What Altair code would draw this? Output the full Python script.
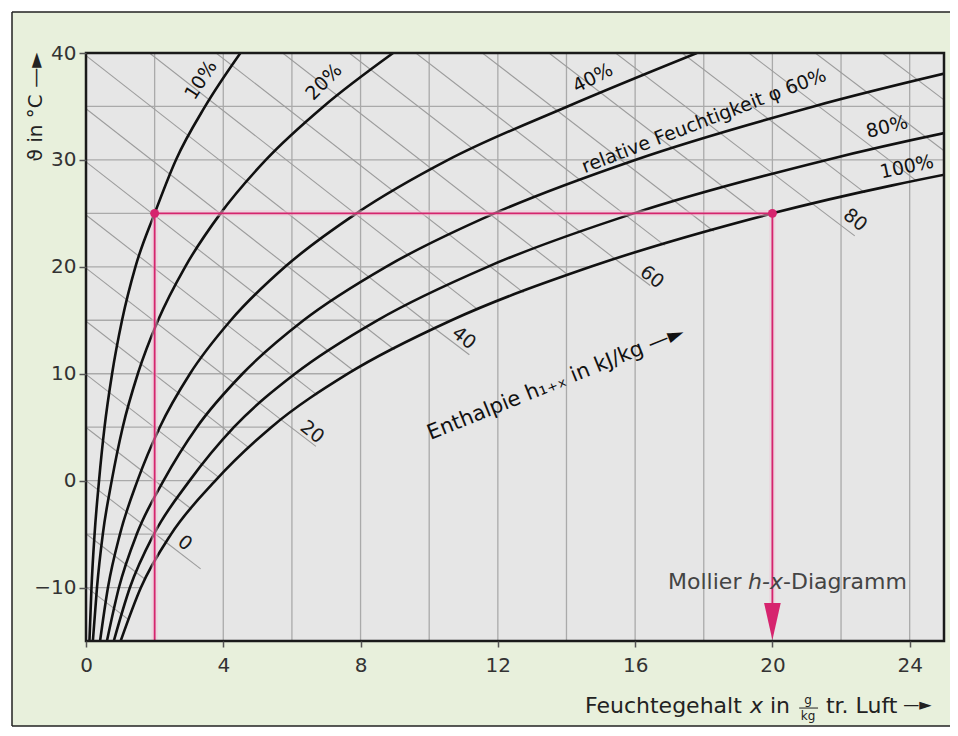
import altair as alt
import pandas as pd

W, H = 858, 588

# ---------------- data ----------------
temps = [-15, -10, -5, 0, 5, 10, 15, 20, 25, 30, 35, 40]
rh_levels = [10, 20, 40, 60, 80, 100]
rh_10 = [0.10, 0.16, 0.25, 0.38, 0.54, 0.76, 1.05, 1.44, 2.00, 2.62, 3.47, 4.50]
rh_20 = [0.20, 0.32, 0.49, 0.75, 1.07, 1.51, 2.10, 2.89, 3.92, 5.24, 6.92, 8.95]
rh_40 = [0.41, 0.64, 0.99, 1.50, 2.15, 3.03, 4.22, 5.80, 7.88, 10.55, 14.03, 17.80]
rh_60 = [0.61, 0.96, 1.48, 2.26, 3.23, 4.56, 6.34, 8.74, 11.90, 16.00, 21.20, 27.60]
rh_80 = [0.81, 1.28, 1.98, 3.02, 4.31, 6.09, 8.49, 11.70, 15.96, 21.58, 28.90, 38.00]
rh_100 = [1.01, 1.60, 2.48, 3.77, 5.40, 7.63, 10.65, 14.70, 20.00, 27.20, 36.50, 48.00]

# vertical grid (x) and isotherms ending at the saturation curve
grid_x = [2, 4, 6, 8, 10, 12, 14, 16, 18, 20, 22, 24]
iso_t = [-10, -5, 0, 5, 10, 15, 20, 25, 30, 35]
iso_x0 = [0, 0, 0, 0, 0, 0, 0, 0, 0, 0]
iso_x1 = [1.60, 2.48, 3.77, 5.40, 7.63, 10.65, 14.70, 20.00, 25.0, 25.0]

# enthalpy lines (kJ/kg): start and end points
h_vals = [-10, -5, 0, 5, 10, 15, 20, 25, 30, 35, 40, 45, 50, 55, 60, 65, 70, 75, 80, 85, 90, 95, 100]
h_x0 = [0, 0, 0, 0, 0, 0, 0, 0, 0, 0, 0, 1.85, 3.79, 5.73, 7.67, 9.61, 11.55, 13.49, 15.43, 17.37, 19.31, 21.25, 23.20]
h_t0 = [-9.94, -4.97, 0, 4.97, 9.94, 14.91, 19.88, 24.85, 29.82, 34.79, 39.76, 40, 40, 40, 40, 40, 40, 40, 40, 40, 40, 40, 40]
h_x1 = [1.24, 1.73, 2.34, 3.08, 3.87, 4.76, 5.70, 6.74, 7.80, 8.99, 10.17, 11.43, 12.75, 14.06, 15.44, 16.86, 18.29, 19.71, 21.20, 22.70, 24.21, 25.0, 25.0]
h_t1 = [-13.0, -9.25, -5.79, -2.68, 0.31, 3.04, 5.66, 8.00, 10.28, 12.24, 14.21, 15.97, 17.59, 19.21, 20.68, 22.01, 23.33, 24.66, 25.82, 26.92, 28.02, 30.86, 35.61]

# labelled enthalpy lines: extension into the fog region
lab_h = ["0", "20", "40", "60", "80"]
lab_x0 = [2.34, 5.70, 10.17, 15.44, 21.20]
lab_t0 = [-5.79, 5.66, 14.21, 20.68, 25.82]
lab_x1 = [3.34, 6.70, 11.17, 16.44, 22.40]
lab_t1 = [-8.25, 3.20, 11.77, 18.25, 22.90]
lab_tx = [2.88, 6.59, 11.01, 16.49, 22.41]
lab_tt = [-5.83, 4.55, 13.34, 19.05, 24.38]

# example state: x = 2 g/kg at 25 °C (10 %) and x = 20 g/kg at 25 °C (100 %)
state_x = [2, 20]
state_t = [25, 25]
guide_x0 = [2, 2, 20]
guide_t0 = [25, 25, 25]
guide_x1 = [20, 2, 20]
guide_t1 = [25, -15, -13]
arrow_x = [20]
arrow_t = [-13.18]

# curve labels
curve_text = ["10%", "20%", "40%", "relative Feuchtigkeit \u03c6 60%", "80%", "100%"]
curve_tx = [3.35, 6.93, 14.77, 18.01, 23.34, 23.92]
curve_tt = [37.47, 37.29, 37.66, 33.64, 33.08, 29.34]
curve_ang = [303, 315, 333, 339, 346, 348]

x_ticks = [0, 4, 8, 12, 16, 20, 24]
y_ticks = [-10, 0, 10, 20, 30, 40]

# ---------------- tables ----------------
rows = []
for lvl, xs_ in zip(rh_levels, [rh_10, rh_20, rh_40, rh_60, rh_80, rh_100]):
    for t, x in zip(temps, xs_):
        rows.append({"phi": lvl, "x": x, "t": t})
df_curves = pd.DataFrame(rows)
df_vgrid = pd.DataFrame({"gx": grid_x})
df_iso = pd.DataFrame({"t": iso_t, "x0": iso_x0, "x1": iso_x1})
df_h = pd.DataFrame({"h": h_vals, "xa": h_x0, "ta": h_t0, "xb": h_x1, "tb": h_t1})
df_lab = pd.DataFrame({"h": lab_h, "xa": lab_x0, "ta": lab_t0, "xb": lab_x1, "tb": lab_t1,
                       "tx": lab_tx, "tt": lab_tt})
df_state = pd.DataFrame({"x": state_x, "t": state_t})
df_guide = pd.DataFrame({"xa": guide_x0, "ta": guide_t0, "xb": guide_x1, "tb": guide_t1})
df_arrow = pd.DataFrame({"x": arrow_x, "t": arrow_t})
df_clab = pd.DataFrame({"txt": curve_text, "x": curve_tx, "t": curve_tt, "ang": curve_ang})
dummy = pd.DataFrame({"k": [0]})

xs = alt.Scale(domain=[0, 25], nice=False, zero=False)
ys = alt.Scale(domain=[-15, 40], nice=False, zero=False)
FONT = "DejaVu Sans"
x_axis = alt.Axis(values=x_ticks, title=None, grid=False, domain=False, tickSize=6,
                  tickColor="#555", tickWidth=1.5, labelFontSize=20, labelColor="#333",
                  labelPadding=8, labelFont=FONT, labelFlush=False, zindex=1)
y_axis = alt.Axis(values=y_ticks, title=None, grid=False, domain=False, tickSize=7,
                  tickColor="#555", tickWidth=1.5, labelFontSize=20, labelColor="#333",
                  labelPadding=3, labelFont=FONT, labelFlush=False, zindex=1)


def X(f):
    return alt.X(f, type="quantitative", scale=xs, axis=x_axis)


def Y(f):
    return alt.Y(f, type="quantitative", scale=ys, axis=y_axis)


PINK = "#d6246e"

# outer light-green panel with a dark edge on the left, top and bottom
frame = alt.Chart(dummy).mark_rect(fill="#e8f0dc").encode(
    x=alt.value(-74), x2=alt.value(870), y=alt.value(-41), y2=alt.value(673))
frame_l = alt.Chart(dummy).mark_rule(color="#222", strokeWidth=1.5).encode(
    x=alt.value(-74), y=alt.value(-41), y2=alt.value(673))
frame_t = alt.Chart(dummy).mark_rule(color="#222", strokeWidth=1.5).encode(
    x=alt.value(-74), x2=alt.value(870), y=alt.value(-41))
frame_b = alt.Chart(dummy).mark_rule(color="#222", strokeWidth=1.5).encode(
    x=alt.value(-74), x2=alt.value(870), y=alt.value(673))
plotbg = alt.Chart(dummy).mark_rect(fill="#e6e6e6").encode(
    x=alt.value(0), x2=alt.value(W), y=alt.value(0), y2=alt.value(H))
vgrid = alt.Chart(df_vgrid).mark_rule(color="#aaaaaa", strokeWidth=1.3).encode(x=X("gx"))
hgrid = alt.Chart(df_iso).mark_rule(color="#aaaaaa", strokeWidth=1.3).encode(
    x=X("x0"), x2=alt.X2("x1"), y=Y("t"))
diag = alt.Chart(df_h).mark_rule(color="#9c9c9c", strokeWidth=1.1, clip=True).encode(
    x=X("xa"), y=Y("ta"), x2=alt.X2("xb"), y2=alt.Y2("tb"))
labext = alt.Chart(df_lab).mark_rule(color="#9c9c9c", strokeWidth=1.1).encode(
    x=X("xa"), y=Y("ta"), x2=alt.X2("xb"), y2=alt.Y2("tb"))
labtxt = alt.Chart(df_lab).mark_text(font=FONT, fontSize=19, angle=38, color="#1a1a1a").encode(
    x=X("tx"), y=Y("tt"), text="h:N")
curves = alt.Chart(df_curves).mark_line(color="#111", strokeWidth=2.6, interpolate="monotone",
                                        clip=True).encode(x=X("x"), y=Y("t"), detail="phi:N")
halo = alt.Chart(df_guide).mark_rule(color="#f3c4d6", strokeWidth=6, opacity=0.5).encode(
    x=X("xa"), y=Y("ta"), x2=alt.X2("xb"), y2=alt.Y2("tb"))
guide = alt.Chart(df_guide).mark_rule(color=PINK, strokeWidth=1.8).encode(
    x=X("xa"), y=Y("ta"), x2=alt.X2("xb"), y2=alt.Y2("tb"))
arrow = alt.Chart(df_arrow).mark_point(shape="M -0.45 -1 L 0.45 -1 L 0 1 Z", filled=True,
                                       size=1369, color=PINK, opacity=1, strokeWidth=0).encode(
    x=X("x"), y=Y("t"))
pts = alt.Chart(df_state).mark_circle(size=80, color=PINK, opacity=1).encode(x=X("x"), y=Y("t"))
clab = alt.Chart(df_clab).mark_text(font=FONT, fontSize=19, color="#111").encode(
    x=X("x"), y=Y("t"), text="txt:N", angle=alt.Angle("ang:Q", scale=None))

# enthalpy axis caption
df_ent = pd.DataFrame({"txt": ["Enthalpie h\u2081\u208a\u2093 in kJ/kg \u2014\u25ba"], "x": [13.69], "t": [9.13]})
ent = alt.Chart(df_ent).mark_text(font=FONT, fontSize=21, angle=338, color="#111").encode(
    x=X("x"), y=Y("t"), text="txt:N")

# Mollier caption
df_moll = pd.DataFrame({"txt": ["Mollier", "-Diagramm"], "x": [16.96, 20.31], "t": [-9.48, -9.48]})
df_moll_i = pd.DataFrame({"txt": ["h-x"], "x": [19.29], "t": [-9.48]})
moll = alt.Chart(df_moll).mark_text(font=FONT, fontSize=22, align="left", color="#444").encode(
    x=X("x"), y=Y("t"), text="txt:N")
moll_i = alt.Chart(df_moll_i).mark_text(font=FONT, fontSize=22, align="left", fontStyle="italic",
                                        color="#444").encode(x=X("x"), y=Y("t"), text="txt:N")

# x axis caption
df_xt = pd.DataFrame({"txt": ["Feuchtegehalt", "in", "tr. Luft"], "x": [14.54, 19.93, 21.56],
                      "t": [-21.08, -21.08, -21.08]})
df_xt_i = pd.DataFrame({"txt": ["x"], "x": [19.35], "t": [-21.08]})
df_frac = pd.DataFrame({"txt": ["g", "kg"], "x": [21.04, 21.04], "t": [-20.55, -22.05]})
df_bar = pd.DataFrame({"xa": [20.78], "xb": [21.33], "t": [-21.27]})
df_arr = pd.DataFrame({"txt": ["\u2014\u25ba"], "x": [23.81], "t": [-21.0]})
xt = alt.Chart(df_xt).mark_text(font=FONT, fontSize=22, align="left", color="#222").encode(
    x=X("x"), y=Y("t"), text="txt:N")
xt_i = alt.Chart(df_xt_i).mark_text(font=FONT, fontSize=22, align="left", fontStyle="italic",
                                    color="#222").encode(x=X("x"), y=Y("t"), text="txt:N")
frac = alt.Chart(df_frac).mark_text(font=FONT, fontSize=12, color="#222").encode(
    x=X("x"), y=Y("t"), text="txt:N")
fbar = alt.Chart(df_bar).mark_rule(color="#222", strokeWidth=1).encode(
    x=X("xa"), x2=alt.X2("xb"), y=Y("t"))
xarr = alt.Chart(df_arr).mark_text(font=FONT, fontSize=16, align="left", color="#222").encode(
    x=X("x"), y=Y("t"), text="txt:N")

# y axis caption
df_yt = pd.DataFrame({"txt": ["\u03d1 in \u00b0C \u2014\u25ba"], "x": [-1.457], "t": [34.95]})
yt = alt.Chart(df_yt).mark_text(font=FONT, fontSize=20, angle=270, color="#222").encode(
    x=X("x"), y=Y("t"), text="txt:N")

border = alt.Chart(dummy).mark_rect(fill="transparent", stroke="#1a1a1a", strokeWidth=2.5).encode(
    x=alt.value(0), x2=alt.value(W), y=alt.value(0), y2=alt.value(H))

chart = alt.layer(
    frame, frame_l, frame_t, frame_b, plotbg, vgrid, hgrid, diag, labext, curves, halo, guide,
    arrow, pts, labtxt, clab, ent, moll, moll_i, xt, xt_i, frac, fbar, xarr, yt, border
).properties(
    width=W, height=H,
    padding={"left": 78, "top": 45, "right": 6, "bottom": 87},
    autosize=alt.AutoSizeParams(type="none"),
).configure_view(strokeWidth=0).configure(background="white")

chart.save("out.html", embed_options={"renderer": "svg", "actions": False})
